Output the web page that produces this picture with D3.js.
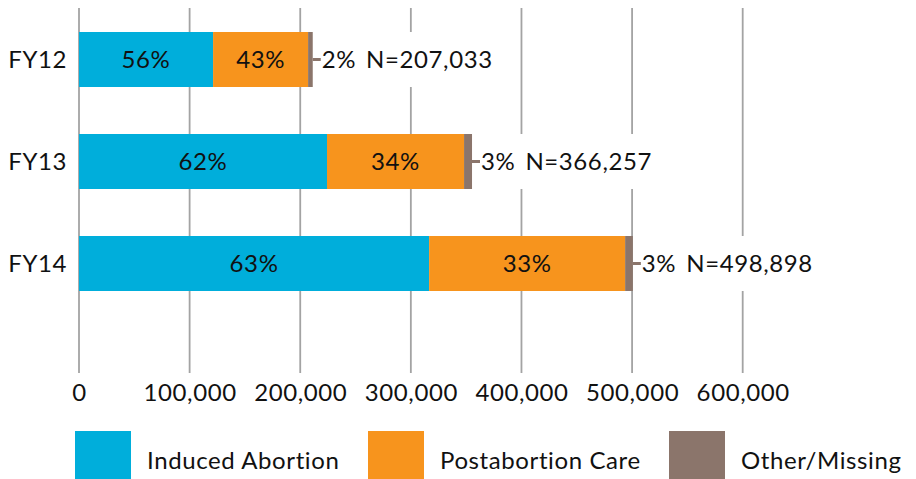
<!DOCTYPE html>
<html><head><meta charset="utf-8">
<script src="https://cdn.jsdelivr.net/npm/d3@7"></script>
<style>
html,body{margin:0;padding:0;background:#fff;}
svg{display:block;font-family:Lato,"Open Sans",sans-serif;}
svg text{letter-spacing:0.6px;}
</style></head>
<body>
<svg id="chart" width="916" height="479"></svg>
<script>
const categories = ["FY12", "FY13", "FY14"];
const induced = [121200, 224200, 316500];
const postabortion = [85900, 123900, 177200];
const other = [4200, 7200, 7000];
const inducedPct = ["56%", "62%", "63%"];
const postabortionPct = ["43%", "34%", "33%"];
const otherPct = ["2%", "3%", "3%"];
const totals = ["N=207,033", "N=366,257", "N=498,898"];
const tickValues = [0, 100000, 200000, 300000, 400000, 500000, 600000];
const seriesNames = ["Induced Abortion", "Postabortion Care", "Other/Missing"];
const colors = ["#00AEDB", "#F7941D", "#8B756B"];

const FS = 24;
const svg = d3.select("#chart");
const x = d3.scaleLinear().domain([0, 600000]).range([79, 742.7]);
const y = d3.scaleBand().domain(categories).range([8.5, 314.5]).paddingInner(0.4608).paddingOuter(0.2304);
const gridTop = 8, gridBottom = 373;

// gridlines
svg.append("g").selectAll("line").data(tickValues).join("line")
  .attr("x1", d => x(d)).attr("x2", d => x(d))
  .attr("y1", gridTop).attr("y2", gridBottom)
  .attr("stroke", "#a3a3a3").attr("stroke-width", 1.8);

// x axis labels
const xAxis = d3.axisBottom(x).tickValues(tickValues).tickSize(0).tickPadding(0)
  .tickFormat(d3.format(","));
const gx = svg.append("g").attr("transform", `translate(0,${384})`).call(xAxis);
gx.select(".domain").remove();
gx.selectAll("text").attr("font-size", FS).attr("fill", "#111").attr("dy", "0.71em")
  .attr("font-family", "Lato, 'Open Sans', sans-serif");

// y labels
svg.append("g").selectAll("text").data(categories).join("text")
  .attr("x", 67).attr("y", d => y(d) + y.bandwidth() / 2)
  .attr("dy", "0.36em").attr("text-anchor", "end")
  .attr("font-size", FS).attr("fill", "#111").text(d => d);

// stacked data
const rows = categories.map((c, i) => ({ cat: c, vals: [induced[i], postabortion[i], other[i]] }));
const bars = svg.append("g");
rows.forEach((r, i) => {
  let acc = 0;
  r.vals.forEach((v, k) => {
    bars.append("rect")
      .attr("x", x(acc)).attr("y", y(r.cat))
      .attr("width", x(acc + v) - x(acc)).attr("height", y.bandwidth())
      .attr("fill", colors[k]);
    acc += v;
  });
});

// inside labels
const inner = svg.append("g");
rows.forEach((r, i) => {
  const cy = y(r.cat) + y.bandwidth() / 2;
  const s0 = 0, s1 = r.vals[0], s2 = r.vals[0] + r.vals[1];
  inner.append("text").attr("x", (x(s0) + x(s1)) / 2).attr("y", cy).attr("dy", "0.36em")
    .attr("text-anchor", "middle").attr("font-size", FS).attr("fill", "#111").text(inducedPct[i]);
  inner.append("text").attr("x", (x(s1) + x(s2)) / 2).attr("y", cy).attr("dy", "0.36em")
    .attr("text-anchor", "middle").attr("font-size", FS).attr("fill", "#111").text(postabortionPct[i]);
});

// outside labels
const outer = svg.append("g");
rows.forEach((r, i) => {
  const end = x(r.vals[0] + r.vals[1] + r.vals[2]);
  const cy = y(r.cat) + y.bandwidth() / 2;
  const g = outer.append("g");
  const bg = g.append("rect").attr("fill", "#fff");
  const t1 = g.append("text").attr("x", end + 9).attr("y", cy).attr("dy", "0.36em")
    .attr("font-size", FS).attr("fill", "#111").text(otherPct[i]);
  const w1 = t1.node().getComputedTextLength();
  const t2 = g.append("text").attr("x", end + 9 + w1 + 10).attr("y", cy).attr("dy", "0.36em")
    .attr("font-size", FS).attr("fill", "#111").text(totals[i]);
  const w2 = t2.node().getComputedTextLength();
  bg.attr("x", end + 1).attr("y", y(r.cat)).attr("width", 9 + w1 + 10 + w2 + 2).attr("height", y.bandwidth());
  g.append("line").attr("x1", end).attr("x2", end + 8).attr("y1", cy).attr("y2", cy)
    .attr("stroke", colors[2]).attr("stroke-width", 3);
});

// legend
const legendX = [75, 368, 669];
const lg = svg.append("g");
seriesNames.forEach((n, k) => {
  lg.append("rect").attr("x", legendX[k]).attr("y", 431).attr("width", 56).attr("height", 48).attr("fill", colors[k]);
  lg.append("text").attr("x", legendX[k] + 72).attr("y", 469).attr("font-size", FS).attr("fill", "#111").text(n);
});
</script>
</body></html>
